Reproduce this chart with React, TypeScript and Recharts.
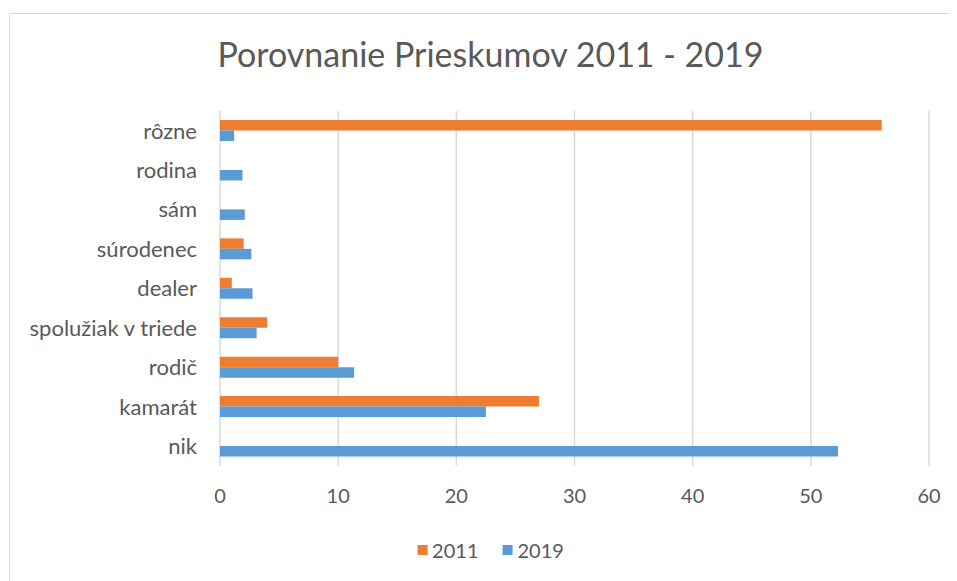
import React from 'react';
import { BarChart, Bar, XAxis, YAxis, CartesianGrid } from 'recharts';

const categories = ['rôzne', 'rodina', 'sám', 'súrodenec', 'dealer', 'spolužiak v triede', 'rodič', 'kamarát', 'nik'];
const values2011 = [56, 0, 0, 2, 1, 4, 10, 27, 0];
const values2019 = [1.2, 1.9, 2.1, 2.65, 2.75, 3.1, 11.35, 22.5, 52.3];
const xTicks = [0, 10, 20, 30, 40, 50, 60];
const seriesNames = ['2011', '2019'];

const ORANGE = '#ED7D31';
const BLUE = '#5B9BD5';
const TEXT = '#595959';
const FONT = 'Lato, "Open Sans", sans-serif';

const data = categories.map((name, i) => ({
  name,
  y2011: values2011[i],
  y2019: values2019[i],
}));

function ChartLegend() {
  const colors = [ORANGE, BLUE];
  return (
    <div
      style={{
        position: 'absolute',
        left: 482.5,
        top: 530,
        transform: 'translateX(-50%)',
        display: 'flex',
        fontFamily: FONT,
        fontSize: 20,
        color: TEXT,
      }}
    >
      {seriesNames.map((label, i) => (
        <div key={label} style={{ display: 'flex', alignItems: 'center', margin: '0 12px' }}>
          <span style={{ width: 10, height: 10, background: colors[i], display: 'inline-block', marginRight: 5 }} />
          <span>{label}</span>
        </div>
      ))}
    </div>
  );
}

export default function App() {
  return (
    <div style={{ width: 949, height: 573, overflow: 'hidden', position: 'relative', background: '#fff' }}>
      {/* chart frame, right and bottom edges run past the window like in the source */}
      <div
        style={{
          position: 'absolute',
          left: 1,
          top: 5,
          width: 1000,
          height: 700,
          border: '1.5px solid #d9d9d9',
          boxSizing: 'border-box',
        }}
      />
      <div
        style={{
          position: 'absolute',
          left: 482.5,
          top: 25,
          transform: 'translateX(-50%)',
          whiteSpace: 'nowrap',
          fontFamily: FONT,
          fontSize: 34,
          color: TEXT,
        }}
      >
        Porovnanie Prieskumov 2011 - 2019
      </div>
      <div style={{ position: 'absolute', left: 0, top: 0 }}>
        <BarChart
          width={949}
          height={573}
          data={data}
          layout="vertical"
          margin={{ top: 103, right: 28, bottom: 85, left: 0 }}
          barGap={0}
          barSize={10.5}
        >
          <CartesianGrid horizontal={false} stroke="#d9d9d9" strokeWidth={1.5} />
          <XAxis
            type="number"
            domain={[0, 60]}
            ticks={xTicks}
            axisLine={false}
            tickLine={false}
            tickSize={0}
            tickMargin={23}
            height={30}
            tick={{ fill: TEXT, fontSize: 20, fontFamily: FONT }}
          />
          <YAxis
            type="category"
            dataKey="name"
            width={212}
            axisLine={false}
            tickLine={false}
            tickSize={0}
            tickMargin={23}
            interval={0}
            tick={{ fill: TEXT, fontSize: 22, fontFamily: FONT }}
          />
          <Bar dataKey="y2011" name={seriesNames[0]} fill={ORANGE} isAnimationActive={false} />
          <Bar dataKey="y2019" name={seriesNames[1]} fill={BLUE} isAnimationActive={false} />
        </BarChart>
      </div>
      <ChartLegend />
    </div>
  );
}
